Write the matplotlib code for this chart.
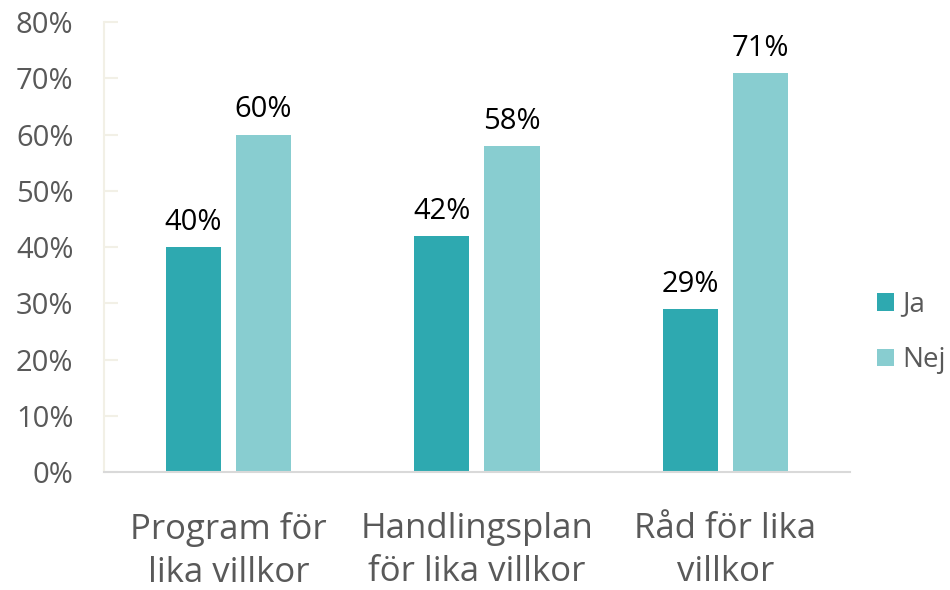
import numpy as np
import matplotlib.pyplot as plt

plt.rcParams['font.family'] = ['Open Sans', 'DejaVu Sans']

categories = ['Program för\nlika villkor', 'Handlingsplan\nför lika villkor', 'Råd för lika\nvillkor']
ja = [40, 42, 29]
nej = [60, 58, 71]
series = ['Ja', 'Nej']
colors = ['#2EA9B0', '#88CDD0']

fig = plt.figure(figsize=(9.5, 5.9), dpi=100)
ax = fig.add_axes([0.1095, 0.2, 0.785, 0.7627])

x = np.arange(len(categories))
w = 0.222
off = 0.141
b1 = ax.bar(x - off, ja, w, color=colors[0], label=series[0])
b2 = ax.bar(x + off, nej, w, color=colors[1], label=series[1])

for bars, vals in ((b1, ja), (b2, nej)):
    for r, v in zip(bars, vals):
        ax.text(r.get_x() + r.get_width() / 2, v + 1.8, f'{v}%',
                ha='center', va='bottom', fontsize=21, color='black')

ax.set_xlim(-0.5, 2.5)
ax.set_ylim(0, 80)
ax.set_yticks(range(0, 81, 10))
ax.set_yticklabels([f'{t}%' for t in range(0, 81, 10)])
ax.set_xticks(x)
ax.set_xticklabels(categories, fontsize=25, color='#595959', linespacing=1.33)

for s in ['top', 'right']:
    ax.spines[s].set_visible(False)
ax.spines['left'].set_color('#F2F0E6')
ax.spines['left'].set_linewidth(1.5)
ax.spines['bottom'].set_color('#D9D9D9')
ax.spines['bottom'].set_linewidth(1.5)
ax.tick_params(axis='y', direction='in', length=10, width=1.5, color='#F2F0E6',
               labelsize=21, labelcolor='#595959', pad=22)
ax.tick_params(axis='x', length=0, pad=29)

leg = ax.legend(loc='center left', bbox_to_anchor=(1.011, 0.31), frameon=False,
                fontsize=20, labelspacing=1.0, handlelength=0.6, handleheight=0.6,
                handletextpad=0.3, borderaxespad=0.3)
for t in leg.get_texts():
    t.set_color('#595959')

fig.savefig('out.png', dpi=100)
